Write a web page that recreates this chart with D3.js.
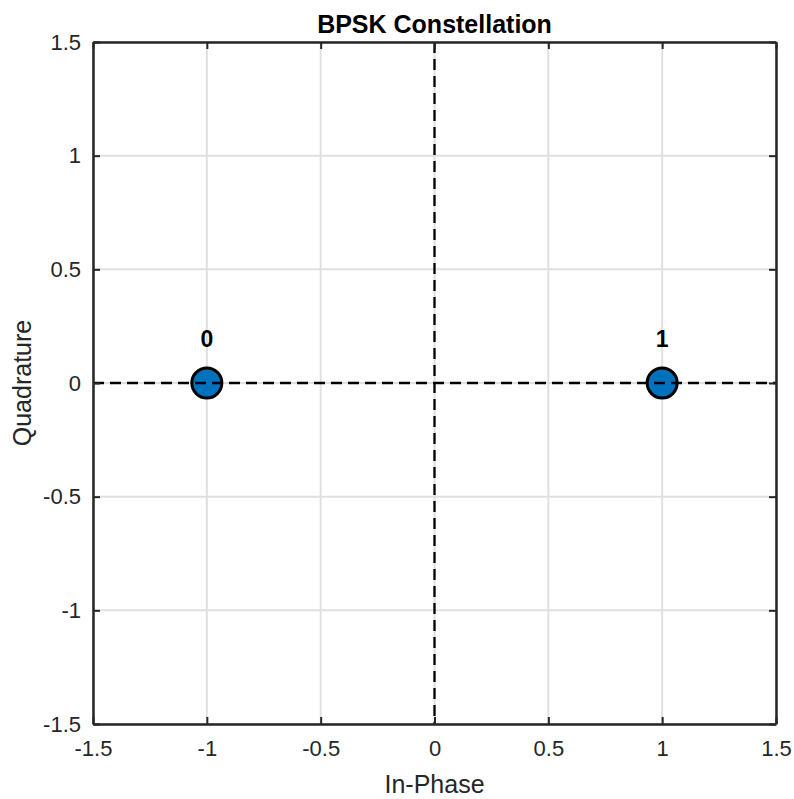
<!DOCTYPE html>
<html>
<head>
<meta charset="utf-8">
<script src="https://cdn.jsdelivr.net/npm/d3@7"></script>
<style>
  body { margin: 0; background: #fff; }
  text { font-family: "Liberation Sans", Arial, sans-serif; fill: #262626; }
</style>
</head>
<body>
<div id="graph"></div>
<script>
// constellation data
var symbols = [
  {bit: '0', i: -1, q: 0},
  {bit: '1', i: 1, q: 0}
]
var ticks = [-1.5, -1, -0.5, 0, 0.5, 1, 1.5]
var tickLabels = ['-1.5', '-1', '-0.5', '0', '0.5', '1', '1.5']

var W = 794, H = 799
var margin = {left: 93, right: 18, top: 42, bottom: 75}
var width = W - margin.left - margin.right
var height = H - margin.top - margin.bottom

var svg = d3.select('#graph').append('svg').attr('width', W).attr('height', H)
var g = svg.append('g').attr('transform', `translate(${margin.left},${margin.top})`)

var x = d3.scaleLinear().domain([-1.5, 1.5]).range([0, width])
var y = d3.scaleLinear().domain([-1.5, 1.5]).range([height, 0])

// grid
g.selectAll('.gx').data(ticks).enter().append('line')
  .attr('x1', d => x(d)).attr('x2', d => x(d)).attr('y1', 0).attr('y2', height)
  .attr('stroke', '#e0e0e0').attr('stroke-width', 2)
g.selectAll('.gy').data(ticks).enter().append('line')
  .attr('y1', d => y(d)).attr('y2', d => y(d)).attr('x1', 0).attr('x2', width)
  .attr('stroke', '#e0e0e0').attr('stroke-width', 2)

// markers
g.selectAll('circle').data(symbols).enter().append('circle')
  .attr('cx', d => x(d.i)).attr('cy', d => y(d.q)).attr('r', 15)
  .attr('fill', '#0072BD').attr('stroke', '#000').attr('stroke-width', 3)

// dashed zero axes on top
g.append('line').attr('x1', 0).attr('x2', width).attr('y1', y(0)).attr('y2', y(0))
  .attr('stroke', '#000').attr('stroke-width', 2.3).attr('stroke-dasharray', '11,6')
g.append('line').attr('x1', x(0)).attr('x2', x(0)).attr('y1', 0).attr('y2', height)
  .attr('stroke', '#000').attr('stroke-width', 2.3).attr('stroke-dasharray', '11,6')

// bit labels
g.selectAll('.bit').data(symbols).enter().append('text')
  .attr('x', d => x(d.i)).attr('y', d => y(d.q) - 36)
  .attr('text-anchor', 'middle').attr('font-size', 23).attr('font-weight', 'bold')
  .style('fill', '#000')
  .text(d => d.bit)

// axes via d3 with inward ticks
var tl = 7
var fmt = (d, i) => tickLabels[i]
var axB = g.append('g').attr('transform', `translate(0,${height})`)
  .call(d3.axisBottom(x).tickValues(ticks).tickFormat(fmt).tickSize(-tl).tickSizeOuter(0).tickPadding(16))
var axT = g.append('g')
  .call(d3.axisTop(x).tickValues(ticks).tickFormat('').tickSize(-tl).tickSizeOuter(0))
var axL = g.append('g')
  .call(d3.axisLeft(y).tickValues(ticks).tickFormat(fmt).tickSize(-tl).tickSizeOuter(0).tickPadding(12))
var axR = g.append('g').attr('transform', `translate(${width},0)`)
  .call(d3.axisRight(y).tickValues(ticks).tickFormat('').tickSize(-tl).tickSizeOuter(0))

;[axB, axT, axL, axR].forEach(a => {
  a.select('.domain').attr('stroke', '#262626').attr('stroke-width', 2.5)
  a.selectAll('.tick line').attr('stroke', '#262626').attr('stroke-width', 2)
  a.selectAll('.tick text').attr('font-size', 22).attr('font-family', '"Liberation Sans", Arial, sans-serif').style('fill', '#262626')
})
axB.selectAll('.tick text').attr('dy', '0.71em')

// title and axis labels
svg.append('text').attr('x', margin.left + width / 2).attr('y', 33)
  .attr('text-anchor', 'middle').attr('font-size', 25).attr('font-weight', 'bold')
  .style('fill', '#000').text('BPSK Constellation')
svg.append('text').attr('x', margin.left + width / 2).attr('y', 793)
  .attr('text-anchor', 'middle').attr('font-size', 25).text('In-Phase')
svg.append('text').attr('transform', `translate(31,${margin.top + height / 2}) rotate(-90)`)
  .attr('text-anchor', 'middle').attr('font-size', 25).text('Quadrature')
</script>
</body>
</html>
